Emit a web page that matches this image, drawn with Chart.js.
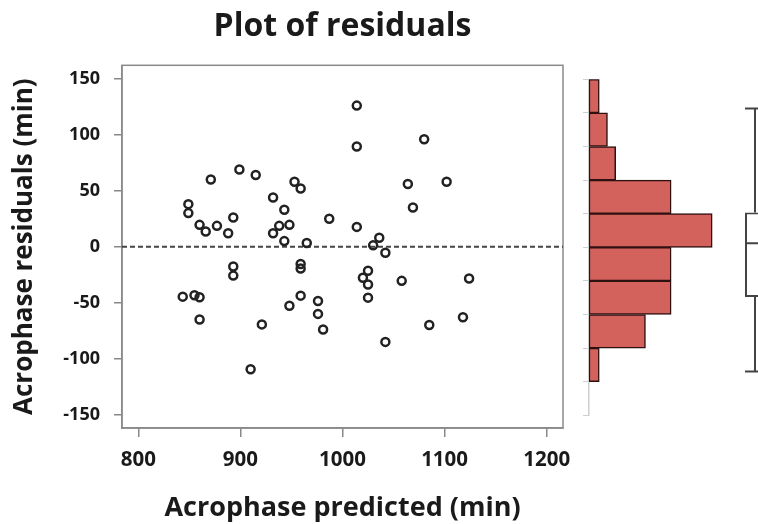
<!DOCTYPE html>
<html>
<head>
<meta charset="utf-8">
<script src="https://cdn.jsdelivr.net/npm/chart.js@4/dist/chart.umd.min.js"></script>
<style>
  html, body { margin:0; padding:0; background:#fff; width:758px; height:524px; overflow:hidden; }
  canvas { position:absolute; top:0; }
</style>
</head>
<body>
<canvas id="scatter" width="758" height="524" style="left:0;width:758px;height:524px"></canvas>
<canvas id="hist" width="173" height="524" style="left:570px;width:173px;height:524px"></canvas>
<canvas id="box" width="50" height="524" style="left:730px;width:50px;height:524px"></canvas>
<script>
// ---- data ----
const predicted = [899, 871, 915, 849, 849, 860, 866, 877, 893, 888,
                   932, 943, 938, 948, 932, 943, 953, 959, 965, 987,
                   1014, 1014, 1080, 1064, 1102, 1069, 1014, 1036, 1030, 1042,
                   893, 893, 843.5, 855, 860, 860, 921, 910, 959, 959,
                   959, 948, 976, 976, 981, 1025, 1020, 1025, 1025, 1058,
                   1124, 1118, 1085, 1042];
const residuals = [69, 60, 64, 38, 30, 19.5, 13.5, 18.6, 26, 12,
                   44, 33, 18.6, 19.5, 12, 5, 58, 52, 3.3, 25,
                   126, 89.5, 96, 56, 58, 35, 17.7, 8, 1.2, -5.4,
                   -17.7, -25.8, -44.6, -43.4, -45.2, -65, -69.4, -109.5, -15.5, -19.5,
                   -43.7, -52.7, -48.5, -60, -74, -21.5, -27.8, -33.8, -45.5, -30.5,
                   -28.4, -63, -70, -85];
const xTicks = [800, 900, 1000, 1100, 1200];
const yTicks = [-150, -100, -50, 0, 50, 100, 150];
const refLineY = 0;
// histogram bins (top to bottom) and bar lengths
const histBins = ['120 to 150', '90 to 120', '60 to 90', '30 to 60', '0 to 30',
                  '-30 to 0', '-60 to -30', '-90 to -60', '-120 to -90', '-150 to -120'];
const histValues = [1, 1.8, 2.6, 8, 12, 8, 8, 5.5, 1, 0];
// boxplot of residuals
const boxQuartiles = [-45, 3, 30.5];   // Q1, median, Q3
const boxWhiskers = [-111.5, 123.5];   // low, high

const FONT = "'Open Sans', 'DejaVu Sans', sans-serif";
const TXT = '#1a1a1a';

const framePlugin = {
  id: 'frame',
  beforeDatasetsDraw(chart) {
    const {ctx, chartArea: a, scales} = chart;
    ctx.save();
    ctx.strokeStyle = '#8a8a8a';
    ctx.lineWidth = 1.5;
    ctx.strokeRect(a.left, a.top, a.right - a.left, a.bottom - a.top);
    const y0 = scales.y.getPixelForValue(refLineY);
    ctx.strokeStyle = '#444';
    ctx.lineWidth = 2;
    ctx.setLineDash([5, 3]);
    ctx.beginPath();
    ctx.moveTo(a.left, y0);
    ctx.lineTo(a.right, y0);
    ctx.stroke();
    ctx.restore();
  }
};

new Chart(document.getElementById('scatter'), {
  type: 'scatter',
  data: {
    datasets: [{
      data: predicted.map((x, i) => ({x, y: residuals[i]})),
      pointRadius: 4,
      pointBorderWidth: 2.5,
      borderColor: '#222',
      backgroundColor: 'rgba(0,0,0,0)'
    }]
  },
  plugins: [framePlugin],
  options: {
    responsive: false,
    animation: false,
    devicePixelRatio: 1,
    layout: { padding: { left: 0, right: 195, top: 0, bottom: 0 } },
    plugins: {
      legend: { display: false },
      tooltip: { enabled: false },
      title: {
        display: true,
        text: 'Plot of residuals',
        fullSize: false,
        color: TXT,
        font: { family: FONT, size: 32, weight: 'bold', lineHeight: 1.2 },
        padding: { top: 8, bottom: 18.9 }
      }
    },
    scales: {
      x: {
        type: 'linear', min: 784, max: 1216,
        afterBuildTicks: s => { s.ticks = xTicks.map(v => ({value: v})); },
        afterFit: s => { s.height = 95.9; },
        ticks: { color: TXT, font: { family: FONT, size: 20.5, weight: 'bold' }, padding: 11, autoSkip: false, maxRotation: 0,
                 callback: v => String(v) },
        grid: { display: true, drawOnChartArea: false, drawTicks: true, tickLength: 9, color: '#888', lineWidth: 1.5 },
        border: { display: true, color: '#8a8a8a', width: 1.5 },
        title: { display: true, text: 'Acrophase predicted (min)', color: TXT,
                 font: { family: FONT, size: 27, weight: 'bold', lineHeight: 1.15 }, padding: { top: 0, bottom: 0 } }
      },
      y: {
        type: 'linear', min: -162, max: 162,
        afterBuildTicks: s => { s.ticks = yTicks.map(v => ({value: v})); },
        afterFit: s => { s.width = 122; },
        ticks: { color: TXT, font: { family: FONT, size: 18, weight: 'bold' }, padding: 14, autoSkip: false,
                 callback: v => String(v) },
        grid: { display: true, drawOnChartArea: false, drawTicks: true, tickLength: 8, color: '#888', lineWidth: 1.5 },
        border: { display: true, color: '#8a8a8a', width: 1.5 },
        title: { display: true, text: 'Acrophase residuals (min)', color: TXT,
                 font: { family: FONT, size: 26, weight: 'bold', lineHeight: 1.15 }, padding: { top: 10, bottom: 0 } }
      }
    }
  }
});

new Chart(document.getElementById('hist'), {
  type: 'bar',
  data: {
    labels: histBins,
    datasets: [{
      data: histValues,
      backgroundColor: '#d3625d',
      borderColor: '#2e1010',
      borderWidth: 1.5,
      borderSkipped: false,
      barPercentage: 1,
      categoryPercentage: 1
    }]
  },
  options: {
    indexAxis: 'y',
    responsive: false,
    animation: false,
    devicePixelRatio: 1,
    layout: { padding: { left: 13, right: 0, top: 79.3, bottom: 108.7 } },
    plugins: { legend: { display: false }, tooltip: { enabled: false } },
    scales: {
      x: { display: false, min: 0, max: 15 },
      y: {
        afterFit: s => { s.width = 6; },
        ticks: { display: false },
        grid: { display: true, drawOnChartArea: false, drawTicks: true, tickLength: 6, color: '#cfcfcf', offset: true, lineWidth: 1 },
        border: { display: true, color: '#cfcfcf', width: 1.5 }
      }
    }
  }
});

const whiskerPlugin = {
  id: 'whiskers',
  afterDatasetsDraw(chart) {
    const {ctx, scales} = chart;
    const bar = chart.getDatasetMeta(0).data[0];
    const cx = bar.x, half = bar.width / 2;
    const y = v => scales.y.getPixelForValue(v);
    ctx.save();
    ctx.strokeStyle = '#444';
    ctx.lineWidth = 2;
    ctx.beginPath();
    // median
    ctx.moveTo(cx - half, y(boxQuartiles[1])); ctx.lineTo(cx + half, y(boxQuartiles[1]));
    // upper whisker
    ctx.moveTo(cx, y(boxQuartiles[2])); ctx.lineTo(cx, y(boxWhiskers[1]));
    ctx.moveTo(cx - half, y(boxWhiskers[1])); ctx.lineTo(cx + half, y(boxWhiskers[1]));
    // lower whisker
    ctx.moveTo(cx, y(boxQuartiles[0])); ctx.lineTo(cx, y(boxWhiskers[0]));
    ctx.moveTo(cx - half, y(boxWhiskers[0])); ctx.lineTo(cx + half, y(boxWhiskers[0]));
    ctx.stroke();
    ctx.restore();
  }
};

new Chart(document.getElementById('box'), {
  type: 'bar',
  data: {
    labels: ['residuals'],
    datasets: [{
      data: [[boxQuartiles[0], boxQuartiles[2]]],
      backgroundColor: '#fff',
      borderColor: '#444',
      borderWidth: 2,
      borderSkipped: false,
      barPercentage: 0.4,
      categoryPercentage: 1
    }]
  },
  plugins: [whiskerPlugin],
  options: {
    responsive: false,
    animation: false,
    devicePixelRatio: 1,
    layout: { padding: { left: 0, right: 0, top: 65.3, bottom: 95.9 } },
    plugins: { legend: { display: false }, tooltip: { enabled: false } },
    scales: {
      x: { display: false },
      y: { display: false, min: -162, max: 162 }
    }
  }
});
</script>
</body>
</html>
